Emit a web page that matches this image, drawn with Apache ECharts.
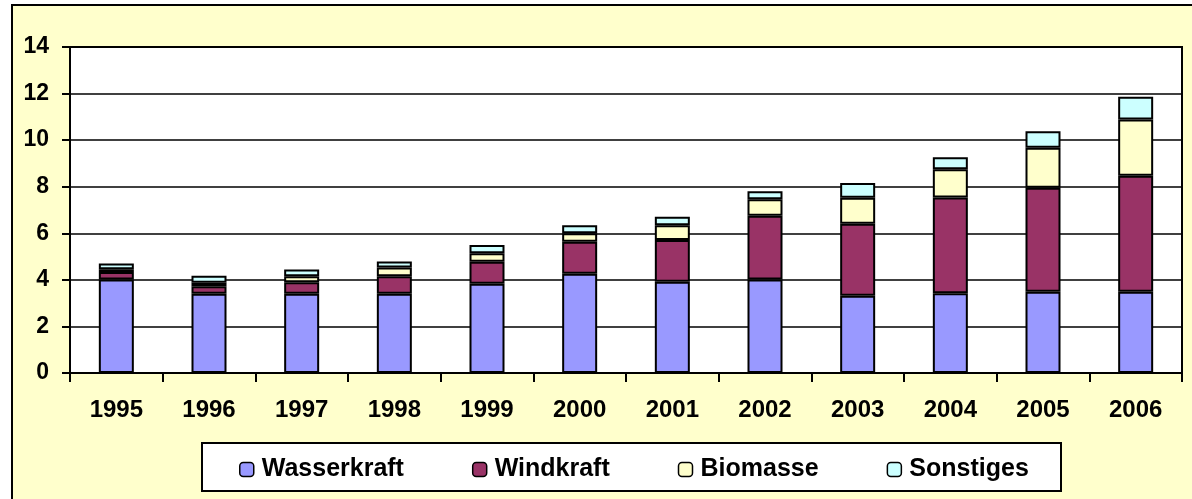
<!DOCTYPE html>
<html>
<head>
<meta charset="utf-8">
<script src="https://cdn.jsdelivr.net/npm/echarts@6/dist/echarts.min.js"></script>
<style>
html,body{margin:0;padding:0;background:#ffffff;}
#chart{width:1192px;height:499px;}
</style>
</head>
<body>
<div id="chart"></div>
<script>
const years = ['1995','1996','1997','1998','1999','2000','2001','2002','2003','2004','2005','2006'];
const wasserkraft = [4.02, 3.40, 3.40, 3.40, 3.83, 4.26, 3.92, 4.02, 3.32, 3.42, 3.49, 3.49];
const windkraft   = [0.32, 0.33, 0.50, 0.75, 0.95, 1.38, 1.79, 2.73, 3.09, 4.12, 4.47, 4.98];
const biomasse    = [0.12, 0.15, 0.25, 0.38, 0.36, 0.36, 0.64, 0.71, 1.12, 1.21, 1.71, 2.42];
const sonstiges   = [0.24, 0.30, 0.29, 0.26, 0.36, 0.35, 0.36, 0.35, 0.63, 0.51, 0.71, 0.97];
const seriesNames = ['Wasserkraft','Windkraft','Biomasse','Sonstiges'];
const yTicks = [0, 2, 4, 6, 8, 10, 12, 14];

const colors = ['#9999FF','#993366','#FFFFCC','#CCFFFF'];
const font = '"Liberation Sans", Arial, sans-serif';
const dataSets = [wasserkraft, windkraft, biomasse, sonstiges];

const chart = echarts.init(document.getElementById('chart'), null, {renderer:'canvas'});
chart.setOption({
  animation: false,
  backgroundColor: '#ffffff',
  graphic: [
    {type:'rect', z:-10, shape:{x:12, y:5, width:1200, height:520},
     style:{fill:'#FFFFCC', stroke:'#000000', lineWidth:2}},
    {type:'rect', z:-5, shape:{x:202, y:443, width:859, height:48},
     style:{fill:'#ffffff', stroke:'#000000', lineWidth:2}}
  ],
  grid: {left:70, right:10, top:47, bottom:126, show:true, backgroundColor:'#ffffff',
         borderColor:'#000000', borderWidth:2},
  legend: {
    data: seriesNames,
    left: 234, top: 452,
    itemWidth: 14, itemHeight: 14, itemGap: 68,
    textStyle: {fontFamily: font, fontWeight:'bold', fontSize:25, color:'#000', padding:[0,0,0,3]},
    itemStyle: {borderColor:'#000', borderWidth:1.5}
  },
  xAxis: {
    type:'category', data: years,
    axisLine:{show:true, lineStyle:{color:'#000', width:2}},
    axisTick:{show:true, length:9, lineStyle:{color:'#000', width:2}},
    axisLabel:{fontFamily:font, fontWeight:'bold', fontSize:24, color:'#000', margin:25}
  },
  yAxis: {
    type:'value', min:0, max:14, interval:2,
    axisLine:{show:true, lineStyle:{color:'#000', width:2}},
    axisTick:{show:true, length:8, lineStyle:{color:'#000', width:2}},
    axisLabel:{fontFamily:font, fontWeight:'bold', fontSize:23, color:'#000', margin:21,
      formatter: v => yTicks.includes(v) ? String(v) : ''},
    splitLine:{show:true, lineStyle:{color:'#000', width:1.5}}
  },
  series: seriesNames.map((n,i) => ({
    name:n, type:'bar', stack:'total', data:dataSets[i], barWidth:35,
    itemStyle:{color:colors[i], borderColor:'#000', borderWidth:2}
  }))
});
</script>
</body>
</html>
